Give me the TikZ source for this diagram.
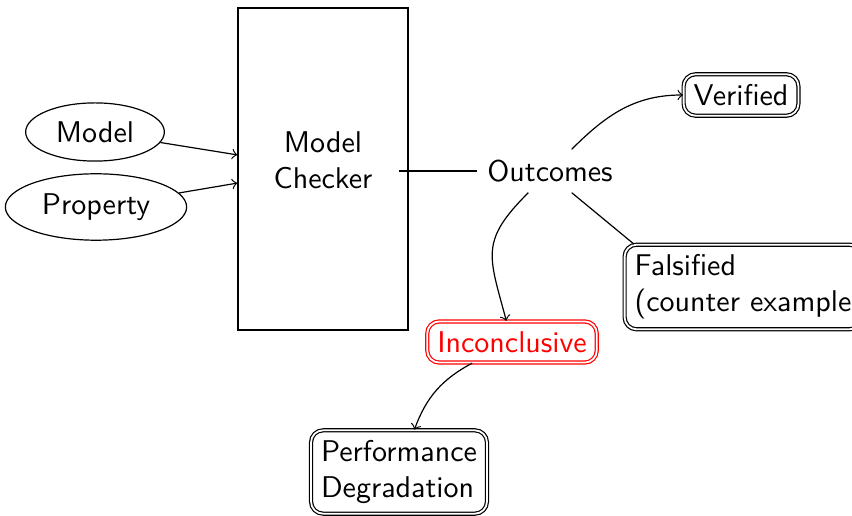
\documentclass[tikz,border=0pt]{standalone}
\usepackage{fontspec}
\usetikzlibrary{shapes.geometric}
\begin{document}
\begin{tikzpicture}[x=0.33333pt,y=0.33333pt,font=\sffamily,
  oval/.style={ellipse,draw},
  result/.style={draw,double,rounded corners},
  link/.style={->}]
\useasboundingbox (0,0) rectangle (852,515);
% inputs
\node[oval,minimum width=43.3pt,minimum height=17.7pt] (model) at (95,383) {Model};
\node[oval,minimum width=59pt,minimum height=20.7pt] (prop) at (96,308) {Property};
% checker
\node[draw,minimum width=56.7pt,minimum height=107.3pt] (mc) at (323,346) {};
\node[align=center] (mctext) at (323,355) {Model\\Checker};
% outcomes
\node (out) at (550,344) {Outcomes};
\node[result] (ver) at (741,420) {Verified};
\node[result,align=left,anchor=west] (fal) at (624,228) {Falsified\\(counter example};
\node[result,red,text=red] (inc) at (512,173) {Inconclusive};
\node[result,align=left] (perf) at (399,43) {Performance\\Degradation};
% connectors
\draw[link] (model) -- ([yshift=4.7pt]mc.west);
\draw[link] (prop) -- ([yshift=-4.7pt]mc.west);
\draw ([xshift=-3.3pt]mc.east |- out.west) -- (out.west);
\draw[link] (out) to[out=45,in=180] (ver);
\draw (out.-45) -- ([xshift=3.3pt]fal.north west);
\draw[link] (out) to[out=-135,in=105,looseness=1.35] (inc);
\draw[link] (inc) to[out=-152,in=70] (perf);
\end{tikzpicture}
\end{document}
